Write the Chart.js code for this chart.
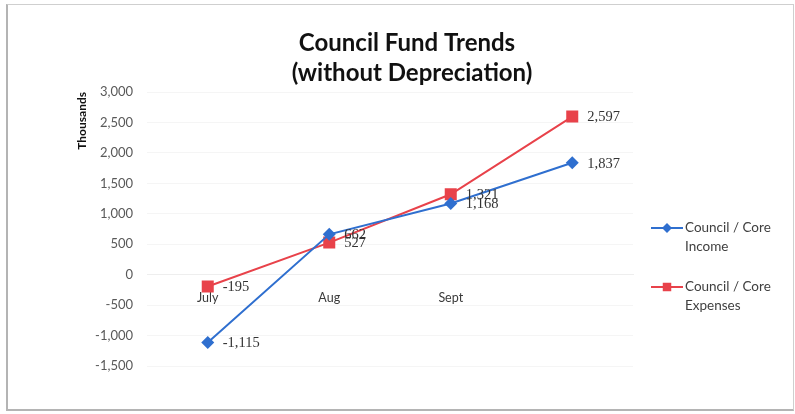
<!DOCTYPE html>
<html>
<head>
  <meta charset="UTF-8">
  <title>Council Fund Trends</title>
  <script src="https://cdn.jsdelivr.net/npm/chart.js"></script>
  <style>
    body {
      margin: 0;
      background: #fff;
    }
    .wrap {
      position: relative;
      width: 795px;
      height: 414px;
    }
    .frame {
      position: absolute;
      left: 6px;
      top: 4px;
      width: 785px;
      height: 404px;
      border: 1px solid #cfcfcf;
      border-left: 2px solid #b4b4b4;
      border-bottom: 2px solid #b4b4b4;
    }
    canvas {
      position: absolute;
      left: 0;
      top: 0;
    }
  </style>
</head>
<body>
  <div class="wrap">
    <div class="frame"></div>
    <canvas id="grafik" width="795" height="414"></canvas>
  </div>

  <script>
    // data (thousands)
    const bulan = ['July', 'Aug', 'Sept', ''];
    const income = [-1115, 662, 1168, 1837];
    const expenses = [-195, 527, 1321, 2597];
    const judul = ['Council Fund Trends', '(without Depreciation)'];
    const legendText = [['Council / Core', 'Income'], ['Council / Core', 'Expenses']];

    const BIRU = '#2f6fcf';
    const MERAH = '#e8424a';

    const fmt = v => v.toLocaleString('en-US');

    // judul, label nilai dan legend digambar sendiri
    const hiasan = {
      id: 'hiasan',
      afterDatasetsDraw(chart) {
        const ctx = chart.ctx;
        ctx.save();
        ctx.font = '14.5px "Liberation Serif"';
        ctx.fillStyle = '#333';
        ctx.textAlign = 'left';
        ctx.textBaseline = 'middle';
        chart.data.datasets.forEach((ds, i) => {
          chart.getDatasetMeta(i).data.forEach((pt, j) => {
            ctx.fillText(fmt(ds.data[j]), pt.x + 15, pt.y + 1);
          });
        });
        ctx.restore();
      },
      afterDraw(chart) {
        const ctx = chart.ctx;
        const area = chart.chartArea;
        ctx.save();

        // judul
        ctx.font = 'bold 24px Lato';
        ctx.fillStyle = '#111';
        ctx.textAlign = 'center';
        ctx.textBaseline = 'middle';
        ctx.fillText(judul[0], 407, 43);
        ctx.fillText(judul[1], 412, 73);

        // legend
        const lx = area.right + 18;
        const rowY = [228, 287];
        chart.data.datasets.forEach((ds, i) => {
          const y = rowY[i];
          ctx.strokeStyle = ds.borderColor;
          ctx.lineWidth = 2;
          ctx.beginPath();
          ctx.moveTo(lx, y);
          ctx.lineTo(lx + 32, y);
          ctx.stroke();
          ctx.fillStyle = ds.backgroundColor;
          Chart.helpers.drawPoint(ctx, {
            pointStyle: ds.pointStyle,
            radius: ds.pointStyle === 'rect' ? 6 : 5,
            borderWidth: 0
          }, lx + 16, y);
          ctx.fillStyle = '#404040';
          ctx.font = '13.5px Lato';
          ctx.textAlign = 'left';
          legendText[i].forEach((t, k) => {
            ctx.fillText(t, lx + 34, y + k * 19);
          });
        });
        ctx.restore();
      }
    };

    const ctx = document.getElementById('grafik').getContext('2d');
    const chart = new Chart(ctx, {
      type: 'line',
      data: {
        labels: bulan,
        datasets: [
          {
            label: 'Council / Core Income',
            data: income,
            borderColor: BIRU,
            backgroundColor: BIRU,
            pointStyle: 'rectRot',
            pointRadius: 6.5,
            pointBorderWidth: 0,
            borderWidth: 2,
            tension: 0
          },
          {
            label: 'Council / Core Expenses',
            data: expenses,
            borderColor: MERAH,
            backgroundColor: MERAH,
            pointStyle: 'rect',
            pointRadius: 8.5,
            pointBorderWidth: 0,
            borderWidth: 2,
            tension: 0
          }
        ]
      },
      options: {
        responsive: false,
        animation: false,
        layout: {
          padding: { left: 70, top: 92, right: 162, bottom: 48 }
        },
        scales: {
          x: {
            type: 'category',
            offset: true,
            position: { y: 0 },
            grid: { display: false, drawTicks: false },
            border: { display: true, color: '#eeeeee' },
            ticks: {
              color: '#3a3a3a',
              padding: 16,
              font: { family: 'Lato', size: 12.5 }
            }
          },
          y: {
            min: -1500,
            max: 3000,
            afterFit(scale) { scale.width = 77; },
            ticks: {
              stepSize: 500,
              padding: 14,
              color: '#595959',
              font: { family: 'Lato', size: 13 },
              callback: v => fmt(v)
            },
            grid: { color: '#f5f5f5', drawTicks: false },
            border: { display: false },
            title: {
              display: true,
              text: 'Thousands',
              align: 'end',
              color: '#111',
              padding: { top: 5, bottom: 0 },
              font: { family: 'Lato', size: 12, weight: 'bold' }
            }
          }
        },
        plugins: {
          legend: { display: false },
          title: { display: false },
          tooltip: { enabled: false }
        }
      },
      plugins: [hiasan]
    });
  </script>
</body>
</html>
